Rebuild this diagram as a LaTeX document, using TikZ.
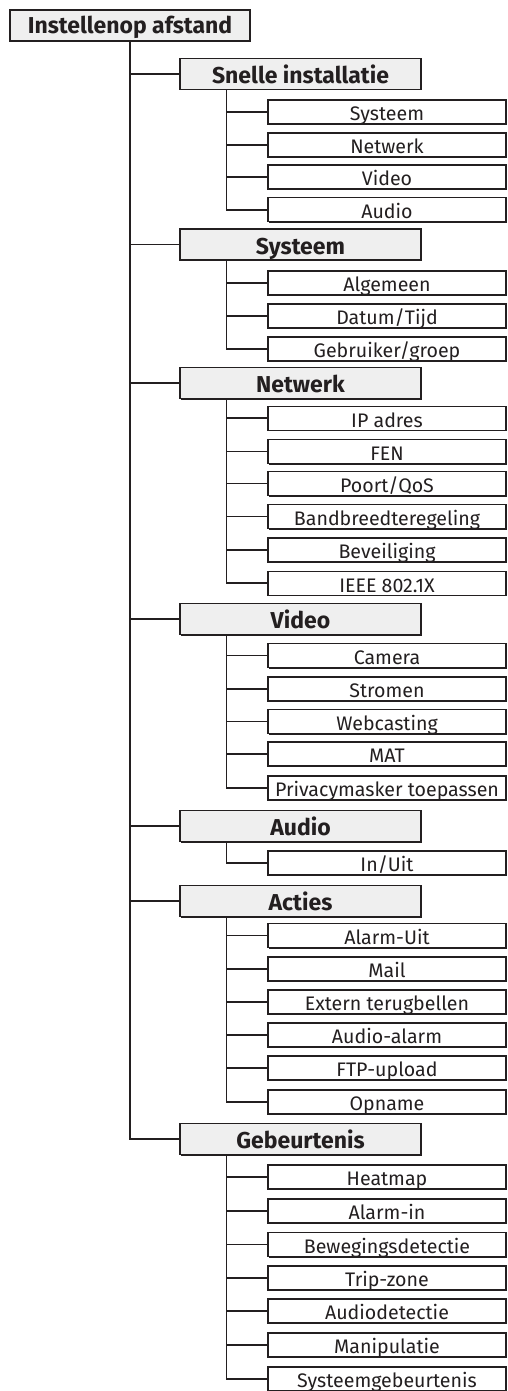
\documentclass[tikz,border=0pt]{standalone}
\usepackage{fontspec}
\setmainfont{Fira Sans}
\usepackage{xcolor}
\usetikzlibrary{shadows}
\definecolor{linecol}{HTML}{231F20}
\definecolor{headgray}{HTML}{EFEFEF}

\tikzset{
	menu/.style={draw=linecol, line width=1.2pt, fill=white, inner sep=0pt, text=linecol,
		drop shadow={shadow xshift=1.1pt, shadow yshift=-1.1pt, fill=linecol, opacity=1}},
	rootbox/.style={menu, fill=headgray, minimum width=240pt, minimum height=31pt,
		font=\bfseries\fontsize{23}{24}\selectfont, text height=15.6pt, text depth=0pt},
	topbox/.style={menu, fill=headgray, minimum width=241pt, minimum height=31pt,
		font=\bfseries\fontsize{23}{24}\selectfont, text height=19pt, text depth=0pt},
	subbox/.style={menu, minimum width=238pt, minimum height=24pt,
		font=\fontsize{19.6}{22}\selectfont, text height=17.4pt, text depth=0pt},
	link/.style={draw=linecol, line width=1.7pt}
}

\begin{document}
\begin{tikzpicture}[x=1pt, y=-1pt]
			
			\useasboundingbox (0,0) rectangle (507,1391);
			
			\node[rootbox] (root) at (130,25.5) {Instellenop afstand};
			
			\node[topbox] (snel) at (300.5,73.8) {Snelle installatie};
			\node[subbox] (snel1) at (387,112) {Systeem};
			\node[subbox] (snel2) at (387,145) {Netwerk};
			\node[subbox] (snel3) at (387,177) {Video};
			\node[subbox] (snel4) at (387,209.7) {Audio};
			
			\node[topbox] (sys) at (300.5,244.5) {Systeem};
			\node[subbox] (sys1) at (387,283) {Algemeen};
			\node[subbox] (sys2) at (387,316) {Datum/Tijd};
			\node[subbox] (sys3) at (387,349) {Gebruiker/groep};
			
			\node[topbox] (net) at (300.5,383) {Netwerk};
			\node[subbox] (net1) at (387,418.3) {IP adres};
			\node[subbox] (net2) at (387,451.5) {FEN};
			\node[subbox] (net3) at (387,483.5) {Poort/QoS};
			\node[subbox] (net4) at (387,516.5) {Bandbreedteregeling};
			\node[subbox] (net5) at (387,550) {Beveiliging};
			\node[subbox] (net6) at (387,583.3) {IEEE 802.1X};
			
			\node[topbox] (vid) at (300.5,619) {Video};
			\node[subbox] (vid1) at (387,655.5) {Camera};
			\node[subbox] (vid2) at (387,689) {Stromen};
			\node[subbox] (vid3) at (387,721.5) {Webcasting};
			\node[subbox] (vid4) at (387,754) {MAT};
			\node[subbox] (vid5) at (387,788) {Privacymasker toepassen};
			
			\node[topbox] (aud) at (300.5,826) {Audio};
			\node[subbox] (aud1) at (387,863) {In/Uit};
			
			\node[topbox] (act) at (300.5,901) {Acties};
			\node[subbox] (act1) at (387,935.5) {Alarm-Uit};
			\node[subbox] (act2) at (387,969) {Mail};
			\node[subbox] (act3) at (387,1002) {Extern terugbellen};
			\node[subbox] (act4) at (387,1035) {Audio-alarm};
			\node[subbox] (act5) at (387,1068) {FTP-upload};
			\node[subbox] (act6) at (387,1102) {Opname};
			
			\node[topbox] (geb) at (300.5,1139) {Gebeurtenis};
			\node[subbox] (geb1) at (387,1177) {Heatmap};
			\node[subbox] (geb2) at (387,1211) {Alarm-in};
			\node[subbox] (geb3) at (387,1244.5) {Bewegingsdetectie};
			\node[subbox] (geb4) at (387,1278) {Trip-zone};
			\node[subbox] (geb5) at (387,1311) {Audiodetectie};
			\node[subbox] (geb6) at (387,1345) {Manipulatie};
			\node[subbox] (geb7) at (387,1379) {Systeemgebeurtenis};
			
			% main trunk
			\draw[link] (root.south) |- (geb.west);
			\foreach \p in {snel, sys, net, vid, aud, act}
				\draw[link] (root.south |- \p.west) -- (\p.west);
			
			% sub trunks
			\foreach \p/\n in {snel/4, sys/3, net/6, vid/5, aud/1, act/6, geb/7} {
				\coordinate (\p T) at ([xshift=47pt]\p.south west);
				\draw[link] (\p T) |- (\p\n.west);
				\foreach \i in {1,...,\n}
					\draw[link] (\p T |- \p\i.west) -- (\p\i.west);
			}
			
\end{tikzpicture}
\end{document}
